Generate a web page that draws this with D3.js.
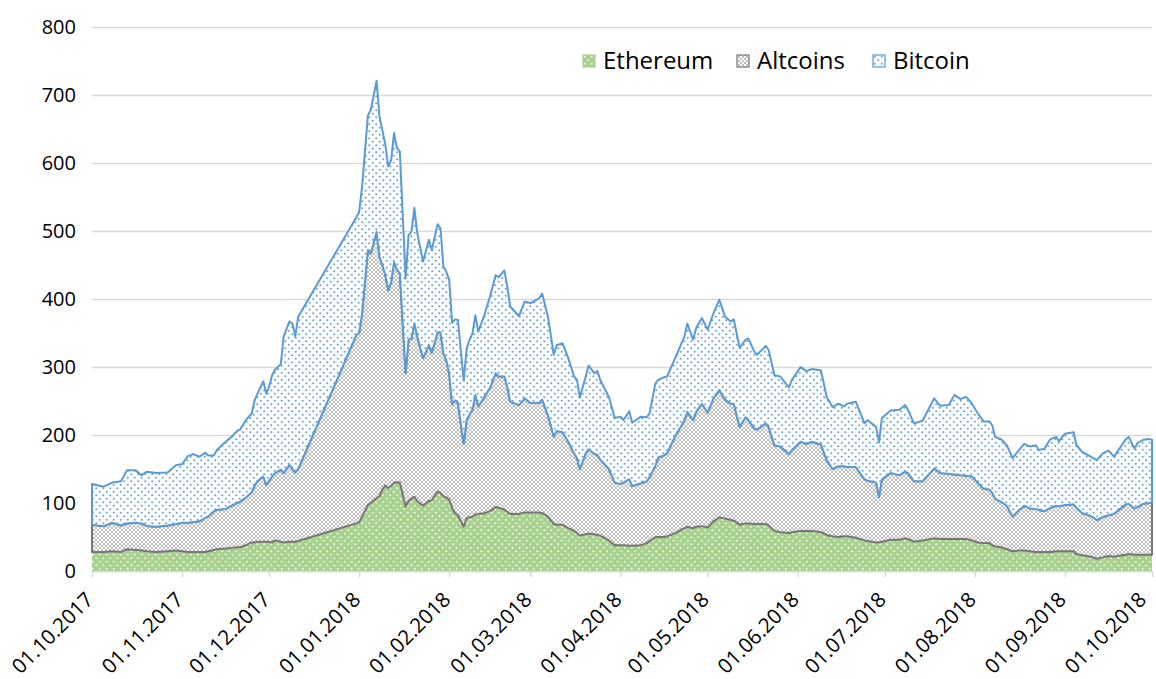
<!DOCTYPE html>
<html>
<head>
<meta charset="utf-8">
<title>Crypto market cap stacked area</title>
<script src="https://d3js.org/d3.v7.min.js"></script>
<style>
  body { margin: 0; background: #fff; }
  text { font-family: "Open Sans", "Noto Sans", sans-serif; fill: #000; }
</style>
</head>
<body>
<script>

// categories (days) and series values
var dates = ["2017-10-01","2017-10-05","2017-10-08","2017-10-11","2017-10-13","2017-10-16","2017-10-18","2017-10-20","2017-10-23","2017-10-27",
  "2017-10-30","2017-11-01","2017-11-03","2017-11-05","2017-11-07","2017-11-09","2017-11-10","2017-11-12","2017-11-13","2017-11-16",
  "2017-11-18","2017-11-20","2017-11-21","2017-11-23","2017-11-25","2017-11-26","2017-11-27","2017-11-29","2017-11-30","2017-12-01",
  "2017-12-02","2017-12-03","2017-12-05","2017-12-06","2017-12-08","2017-12-09","2017-12-10","2017-12-11","2017-12-31","2018-01-01",
  "2018-01-02","2018-01-04","2018-01-05","2018-01-07","2018-01-08","2018-01-09","2018-01-10","2018-01-11","2018-01-12","2018-01-13",
  "2018-01-14","2018-01-15","2018-01-17","2018-01-18","2018-01-19","2018-01-20","2018-01-21","2018-01-23","2018-01-25","2018-01-26",
  "2018-01-28","2018-01-29","2018-01-30","2018-01-31","2018-02-01","2018-02-02","2018-02-03","2018-02-04","2018-02-06","2018-02-07",
  "2018-02-08","2018-02-09","2018-02-10","2018-02-11","2018-02-13","2018-02-15","2018-02-17","2018-02-18","2018-02-20","2018-02-21",
  "2018-02-22","2018-02-25","2018-02-27","2018-03-01","2018-03-04","2018-03-05","2018-03-07","2018-03-09","2018-03-10","2018-03-12",
  "2018-03-14","2018-03-16","2018-03-17","2018-03-18","2018-03-20","2018-03-21","2018-03-23","2018-03-24","2018-03-25","2018-03-28",
  "2018-03-30","2018-04-01","2018-04-02","2018-04-04","2018-04-05","2018-04-08","2018-04-10","2018-04-11","2018-04-13","2018-04-14",
  "2018-04-16","2018-04-17","2018-04-20","2018-04-22","2018-04-23","2018-04-24","2018-04-26","2018-04-27","2018-04-29","2018-05-01",
  "2018-05-03","2018-05-05","2018-05-07","2018-05-09","2018-05-10","2018-05-12","2018-05-14","2018-05-15","2018-05-17","2018-05-18",
  "2018-05-21","2018-05-22","2018-05-24","2018-05-26","2018-05-29","2018-05-30","2018-06-02","2018-06-04","2018-06-06","2018-06-09",
  "2018-06-11","2018-06-13","2018-06-15","2018-06-17","2018-06-18","2018-06-21","2018-06-24","2018-06-25","2018-06-28","2018-06-29",
  "2018-06-30","2018-07-03","2018-07-06","2018-07-08","2018-07-09","2018-07-11","2018-07-14","2018-07-18","2018-07-20","2018-07-23",
  "2018-07-25","2018-07-27","2018-07-29","2018-07-31","2018-08-02","2018-08-04","2018-08-06","2018-08-07","2018-08-08","2018-08-10",
  "2018-08-12","2018-08-14","2018-08-16","2018-08-18","2018-08-20","2018-08-22","2018-08-23","2018-08-25","2018-08-27","2018-08-29",
  "2018-08-30","2018-09-01","2018-09-04","2018-09-05","2018-09-07","2018-09-10","2018-09-12","2018-09-14","2018-09-16","2018-09-18",
  "2018-09-19","2018-09-22","2018-09-23","2018-09-25","2018-09-26","2018-09-28","2018-09-30","2018-10-01"];

var ethereum = [28,28,29,28,32,31,30,29,28,29, 30,29,28,28,28,28,29,31,32,33, 34,35,35,38,42,42,43,43,43,43,
  42,45,43,42,43,43,43,44,70,72, 80,97,100,107,110,120,126,122,125,130, 130,130,95,103,106,109,103,96,103,104,
  117,115,110,108,105,93,85,82,65,78, 79,80,83,84,85,88,94,93,90,87, 84,84,86,86,86,85,80,69,68,68,
  63,59,56,52,54,55,54,53,52,45, 38,38,38,37,37,38,41,44,50,50, 50,51,56,61,63,65,63,65,66,64,
  73,79,77,75,74,68,70,70,69,69, 69,67,59,57,56,57,59,59,59,57, 53,51,50,51,51,49,45,44,42,42,
  43,46,46,48,47,43,45,48,47,47, 47,47,47,45,42,41,41,38,36,35, 32,29,30,30,29,28,28,28,28,29,
  29,29,29,25,23,21,18,20,22,21, 22,24,25,24,24,24,24,24];

var altcoins = [40,38,42,39,38,40,40,37,37,38, 39,42,43,44,45,50,51,57,58,58, 62,65,67,70,74,84,89,96,83,90,
  97,99,106,102,113,107,102,106,277,278, 299,375,367,392,352,330,309,291,300,324, 313,308,196,237,236,255,242,217,229,217,
  234,236,210,202,185,152,166,165,122,144, 151,157,176,158,170,181,197,193,196,184, 165,160,168,161,161,167,149,129,138,136,
  127,114,110,98,119,124,118,118,112,105, 92,90,92,98,88,91,91,94,105,117, 120,122,144,153,159,169,159,169,180,169,
  181,187,175,171,172,144,156,152,141,139, 148,145,126,126,116,121,131,128,131,129, 110,99,104,103,102,104,90,89,88,67,
  92,98,95,98,97,89,87,103,97,96, 95,94,93,94,88,80,79,77,70,67, 64,51,59,66,63,63,62,60,65,67,
  66,68,69,68,62,60,57,59,60,63, 66,74,74,68,70,75,76,77];

var bitcoin = [60,58,59,65,78,77,71,80,79,78, 87,86,98,100,95,96,90,82,88,99, 101,106,106,114,116,125,129,140,135,138,
  149,152,155,201,211,214,200,224,173,178, 186,198,211,222,206,198,192,182,179,190, 179,179,139,154,157,170,152,142,155,151,
  159,153,128,130,138,120,119,122,93,105, 110,112,117,110,120,134,144,146,156,147, 140,131,142,147,154,156,145,120,126,131,
  123,113,115,105,113,123,119,123,117,106, 95,99,92,100,93,98,94,94,121,114, 115,113,115,121,123,130,118,123,126,122,
  125,133,122,121,124,116,114,120,113,110, 114,113,103,103,98,103,110,107,107,109, 93,91,92,88,93,96,82,89,82,80,
  90,92,96,98,93,85,89,103,99,101, 117,112,116,107,102,99,100,99,91,92, 89,86,88,91,91,94,88,92,101,101,
  96,105,106,92,90,87,88,94,95,84, 87,96,98,88,94,94,94,92];

var keys = ["ethereum", "altcoins", "bitcoin"];
var legendNames = ["Ethereum", "Altcoins", "Bitcoin"];
var yTicks = [0, 100, 200, 300, 400, 500, 600, 700, 800];
var monthTicks = ["2017-10-01","2017-11-01","2017-12-01","2018-01-01","2018-02-01","2018-03-01",
  "2018-04-01","2018-05-01","2018-06-01","2018-07-01","2018-08-01","2018-09-01","2018-10-01"];

var W = 1156, H = 679;
var margin = { left: 92, right: 4, top: 27, bottom: 108 };

var parse = d3.timeParse("%Y-%m-%d");
var rows = dates.map(function (d, i) {
  return { date: parse(d), ethereum: ethereum[i], altcoins: altcoins[i], bitcoin: bitcoin[i] };
});

var svg = d3.select("body").append("svg")
  .attr("width", W)
  .attr("height", H);

// patterns
var defs = svg.append("defs");

var pE = defs.append("pattern").attr("id", "patEth")
  .attr("patternUnits", "userSpaceOnUse").attr("width", 7).attr("height", 7);
pE.append("rect").attr("width", 7).attr("height", 7).attr("fill", "#a9d18e");
pE.append("circle").attr("cx", 1.75).attr("cy", 1.75).attr("r", 1).attr("fill", "#eef6e9");
pE.append("circle").attr("cx", 5.25).attr("cy", 5.25).attr("r", 1).attr("fill", "#eef6e9");

var pA = defs.append("pattern").attr("id", "patAlt")
  .attr("patternUnits", "userSpaceOnUse").attr("width", 4).attr("height", 4);
pA.append("rect").attr("width", 4).attr("height", 4).attr("fill", "#ffffff");
pA.append("path").attr("d", "M0,0L4,4M4,0L0,4").attr("stroke", "#bdbdbd").attr("stroke-width", 1);

var pB = defs.append("pattern").attr("id", "patBtc")
  .attr("patternUnits", "userSpaceOnUse").attr("width", 7).attr("height", 7);
pB.append("rect").attr("width", 7).attr("height", 7).attr("fill", "#ffffff");
pB.append("circle").attr("cx", 1.75).attr("cy", 1.75).attr("r", 1.1).attr("fill", "#6fa6da");
pB.append("circle").attr("cx", 5.25).attr("cy", 5.25).attr("r", 1.1).attr("fill", "#6fa6da");

var fills = { ethereum: "url(#patEth)", altcoins: "url(#patAlt)", bitcoin: "url(#patBtc)" };
var strokes = { ethereum: "none", altcoins: "#767676", bitcoin: "#5b9bd5" };

var x = d3.scaleTime()
  .domain([parse("2017-10-01"), parse("2018-10-01")])
  .range([margin.left, W - margin.right]);

var y = d3.scaleLinear()
  .domain([0, 800])
  .range([H - margin.bottom, margin.top]);

// gridlines
svg.append("g")
  .attr("transform", "translate(" + margin.left + ",0)")
  .call(d3.axisLeft(y).tickValues(yTicks).tickSize(-(W - margin.right - margin.left)).tickFormat(""))
  .call(function (g) { g.select(".domain").remove(); })
  .selectAll("line")
  .attr("stroke", "#d9d9d9")
  .attr("stroke-width", 1.5);

// stacked areas
var stack = d3.stack().keys(keys);
var series = stack(rows);

var area = d3.area()
  .x(function (d) { return x(d.data.date); })
  .y0(function (d) { return y(d[0]); })
  .y1(function (d) { return y(d[1]); });

svg.append("g").selectAll("path")
  .data(series)
  .enter().append("path")
  .attr("d", area)
  .attr("fill", function (d) { return fills[d.key]; })
  .attr("stroke", function (d) { return strokes[d.key]; })
  .attr("stroke-width", 2)
  .attr("stroke-linejoin", "round");

// x axis
var xAxis = svg.append("g")
  .attr("transform", "translate(0," + y(0) + ")")
  .call(d3.axisBottom(x)
    .tickValues(monthTicks.map(parse))
    .tickSize(6)
    .tickSizeOuter(0)
    .tickFormat(d3.timeFormat("%d.%m.%Y")));
xAxis.select(".domain").attr("stroke", "#d9d9d9").attr("stroke-width", 1.5);
xAxis.selectAll(".tick line").attr("stroke", "#d9d9d9").attr("stroke-width", 1.5);
var nTicks = monthTicks.length;
xAxis.selectAll(".tick text")
  .attr("font-size", 20.5)
  .attr("font-family", "Open Sans")
  .attr("text-anchor", "end")
  .attr("dy", 0)
  .attr("y", 0)
  .attr("transform", function (d, i) {
    // last label pulled in a little so it stays inside the picture
    return i === nTicks - 1 ? "translate(-5,30) rotate(-45)" : "translate(2,30) rotate(-45)";
  });

// y axis labels
var yAxis = svg.append("g")
  .attr("transform", "translate(" + margin.left + ",0)")
  .call(d3.axisLeft(y).tickValues(yTicks).tickSize(0).tickPadding(16));
yAxis.select(".domain").remove();
yAxis.selectAll("text")
  .attr("font-size", 20)
  .attr("font-family", "Open Sans");

// legend
var legendX = [583, 737, 873];
var legend = svg.append("g").selectAll("g")
  .data(keys)
  .enter().append("g")
  .attr("transform", function (d, i) { return "translate(" + legendX[i] + ",55)"; });

legend.append("rect")
  .attr("width", 12).attr("height", 12)
  .attr("fill", function (d) { return fills[d]; })
  .attr("stroke", function (d) { return d === "ethereum" ? "#a9d18e" : strokes[d]; })
  .attr("stroke-width", 1.2);

legend.append("text")
  .attr("x", 20).attr("y", 6)
  .attr("dy", "0.35em")
  .attr("font-size", 24)
  .text(function (d, i) { return legendNames[i]; });

</script>
</body>
</html>
